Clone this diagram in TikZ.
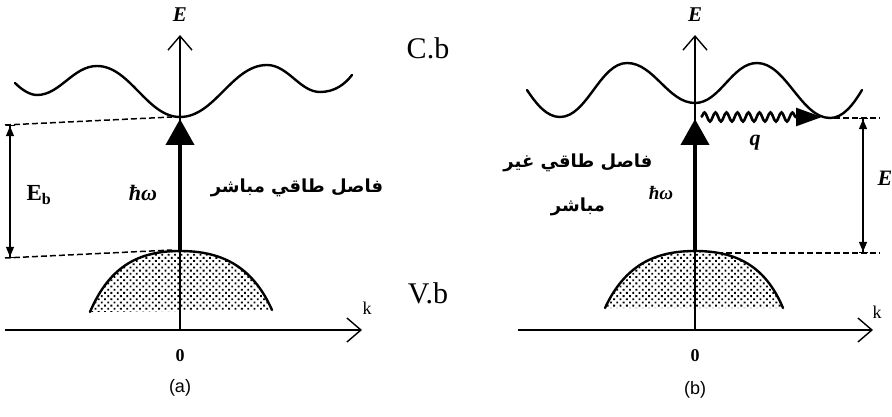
\documentclass[tikz,border=0pt]{standalone}
\usepackage{fontspec}
\setmainfont{Liberation Serif}
\setsansfont{Liberation Sans}
\newfontfamily\arabicfont[Script=Arabic]{DejaVu Sans}
\TeXXeTstate=1
\usetikzlibrary{arrows.meta,decorations.pathmorphing,patterns.meta}

\begin{document}
\begin{tikzpicture}[x=1pt,y=-1pt,
axis/.style={draw=black,line width=1.6pt,-{Straight Barb[length=14pt,width=24pt,line width=1.4pt]}},
band/.style={draw=black,line width=2.4pt,line cap=round},
holes/.style={pattern={Dots[distance=4.5pt,radius=1.3pt,angle=45]}},
photon/.style={line width=4pt,-{Triangle[length=26pt,width=28pt]}},
guide/.style={draw=black,line width=1.5pt,dash pattern=on 6pt off 3pt},
gap/.style={line width=1.5pt,{Bar[width=9pt,line width=1.2pt]Triangle[length=10pt,width=8pt]}-{Triangle[length=10pt,width=8pt]Bar[width=9pt,line width=1.2pt]}},
phonon/.style={line width=2.6pt,decorate,decoration={snake,amplitude=4.5pt,segment length=11pt,post length=26pt}},
axlabel/.style={font=\fontsize{21}{21}\selectfont\bfseries\itshape},
bandname/.style={font=\fontsize{30}{30}\selectfont},
hwlabel/.style={font=\fontsize{22}{22}\selectfont\bfseries\itshape},
arlabel/.style={font=\arabicfont\bfseries\fontsize{18}{44}\selectfont,align=center}]
\useasboundingbox (0,0) rectangle (892,417);
% (a) direct gap
\coordinate (aO) at (180,330);
\coordinate (aTop) at (180,35);
\coordinate (aLeft) at (5,330);
\coordinate (aRight) at (362,330);
\coordinate (aVB) at (180,251);
\coordinate (aCB) at (180,119);
\coordinate (aUpL) at (5,125);
\coordinate (aUpR) at (172,117);
\coordinate (aLoL) at (5,258);
\coordinate (aLoR) at (172,250);
\coordinate (aGapT) at (10,125);
\coordinate (aGapB) at (10,258);
\path[holes] (90,312) .. controls (110,265) and (140,251) .. (180,251)
  .. controls (220,251) and (252,265) .. (272,310) -- cycle;
\draw[band] (90,312) .. controls (110,265) and (140,251) .. (180,251)
  .. controls (220,251) and (252,265) .. (272,310);
\draw[band] (15,83) .. controls (22,90) and (30,95) .. (37,95)
  .. controls (60,95) and (73,66) .. (97,66)
  .. controls (130,66) and (147,117) .. (180,117)
  .. controls (215,117) and (232,65) .. (267,65)
  .. controls (288,65) and (300,92) .. (320,92)
  .. controls (335,92) and (345,84) .. (352,75);
\draw[axis] (aLeft) -- (aRight);
\draw[axis,line width=1.3pt] (aO) -- (aTop);
\draw[guide] (aUpL) -- (aUpR);
\draw[guide] (aLoL) -- (aLoR);
\draw[gap] (aGapT) -- (aGapB);
\draw[photon] (aVB) -- (aCB);
\node[axlabel] (aE) at (180,15) {E};
\node[font=\fontsize{18}{18}\selectfont] (ak) at (367,308) {k};
\node[font=\fontsize{18}{18}\selectfont\bfseries] (a0) at (180,356) {0};
\node[font=\fontsize{18}{18}\selectfont\sffamily] (acap) at (180,388) {(a)};
\node[font=\fontsize{23}{23}\selectfont\bfseries] (aEb) at (39,195) {E\textsubscript{b}};
\node[hwlabel] (ahw) at (143,193) {ħω};
\node[arlabel] (adirect) at (297,188) {\beginR فاصل طاقي مباشر\endR};
\node[bandname] (CB) at (428,48) {C.b};
\node[bandname] (VB) at (428,293) {V.b};
% (b) indirect gap
\coordinate (bO) at (695,330);
\coordinate (bTop) at (695,35);
\coordinate (bLeft) at (518,330);
\coordinate (bRight) at (873,330);
\coordinate (bVB) at (695,251);
\coordinate (bCB) at (695,119);
\coordinate (bQs) at (701,117);
\coordinate (bQe) at (822,117);
\coordinate (bUpL) at (834,118);
\coordinate (bUpR) at (880,118);
\coordinate (bLoL) at (717,253);
\coordinate (bLoR) at (880,253);
\coordinate (bGapT) at (863,118);
\coordinate (bGapB) at (863,253);
\path[holes] (605,308) .. controls (625,265) and (655,251) .. (695,251)
  .. controls (735,251) and (765,265) .. (783,308) -- cycle;
\draw[band] (605,308) .. controls (625,265) and (655,251) .. (695,251)
  .. controls (735,251) and (765,265) .. (783,308);
\draw[band] (527,90) .. controls (537,105) and (547,117) .. (560,117)
  .. controls (587,117) and (600,63) .. (627,63)
  .. controls (654,63) and (668,103) .. (695,103)
  .. controls (720,103) and (732,63) .. (757,63)
  .. controls (786,63) and (801,118) .. (830,118)
  .. controls (843,118) and (853,105) .. (862,90);
\draw[axis] (bLeft) -- (bRight);
\draw[axis,line width=1.3pt] (bO) -- (bTop);
\draw[guide] (bUpL) -- (bUpR);
\draw[guide] (bLoL) -- (bLoR);
\draw[gap] (bGapT) -- (bGapB);
\draw[photon] (bVB) -- (bCB);
\draw[phonon,-{Triangle[length=26pt,width=18pt]}] (bQs) -- (bQe);
\node[axlabel] (bE) at (695,15) {E};
\node[font=\fontsize{18}{18}\selectfont] (bk) at (877,312) {k};
\node[font=\fontsize{18}{18}\selectfont\bfseries] (b0) at (695,356) {0};
\node[font=\fontsize{18}{18}\selectfont\sffamily] (bcap) at (695,390) {(b)};
\node[font=\fontsize{22}{22}\selectfont\bfseries\itshape] (bq) at (755,143) {q};
\node[hwlabel,font=\fontsize{19}{19}\selectfont\bfseries\itshape] (bhw) at (661,193) {ħω};
\node[axlabel,font=\fontsize{22}{22}\selectfont\bfseries\itshape,anchor=west] (bEg) at (874,178) {E};
\node[arlabel] (bindirect) at (578,185) {\beginR فاصل طاقي غير\endR\\\beginR مباشر\endR};
\end{tikzpicture}
\end{document}
